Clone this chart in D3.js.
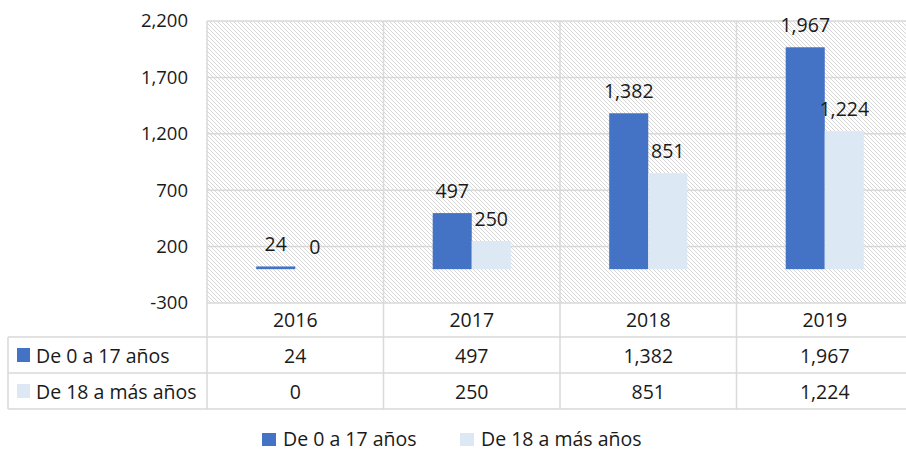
<!DOCTYPE html>
<html>
  <head>
    <meta charset="utf-8">
    <title>De 0 a 17 / De 18 a más años</title>
    <script src="https://cdn.jsdelivr.net/npm/d3@7"></script>
    <style>
      body { margin: 0; background: #fff; }
      svg { display: block; font-family: "Open Sans", Lato, sans-serif; }
    </style>
  </head>

  <body>
    <svg id="chart" width="906" height="451"></svg>

    <script>
      // data
      years = ["2016", "2017", "2018", "2019"];
      seriesNames = ["De 0 a 17 años", "De 18 a más años"];
      young = [24, 497, 1382, 1967];
      adult = [0, 250, 851, 1224];
      yTicks = [-300, 200, 700, 1200, 1700, 2200];
      colours = ["#4472c4", "#dde8f5"];

      values = [young, adult];
      chartData = years.map(function(y, i) {
        return { year: y, vals: seriesNames.map(function(s, j) { return { name: s, v: values[j][i], k: j }; }) };
      });

      // plain hyphen for negatives, like the original
      fmt = d3.formatLocale({ decimal: ".", thousands: ",", grouping: [3], currency: ["", ""], minus: "-" }).format(",");
      grid = "#d9d9d9";
      fontSize = 19.5;
      ink = "#1a1a1a";

      chart = d3.select("#chart");

      // scales
      x = d3.scaleBand().domain(years).range([207, 913]).padding(0);
      x1 = d3.scaleBand().domain(seriesNames).range([0, x.bandwidth()])
        .paddingInner(0).paddingOuter(1.26);
      y = d3.scaleLinear().domain([-300, 2200]).range([303, 21]);

      // hatch pattern
      defs = chart.append("defs");
      pat = defs.append("pattern")
        .attr("id", "hatch")
        .attr("patternUnits", "userSpaceOnUse")
        .attr("width", 4).attr("height", 4);
      pat.append("path")
        .attr("d", "M-1,-1 L5,5 M-1,3 L1,5 M3,-1 L5,1")
        .attr("stroke", "#d6d6d6")
        .attr("stroke-width", 1);

      chart.append("rect")
        .attr("x", x.range()[0]).attr("y", y(2200))
        .attr("width", x.range()[1] - x.range()[0])
        .attr("height", y(-300) - y(2200))
        .attr("fill", "url(#hatch)");

      // horizontal gridlines
      chart.append("g")
        .selectAll("line")
        .data(yTicks)
        .enter().append("line")
          .attr("x1", x.range()[0]).attr("x2", x.range()[1])
          .attr("y1", function(d) { return y(d); })
          .attr("y2", function(d) { return y(d); })
          .attr("stroke", grid).attr("stroke-width", 1.5);

      // y axis labels
      yAxis = chart.append("g")
        .attr("transform", "translate(188,0)")
        .call(d3.axisLeft(y).tickValues(yTicks).tickFormat(fmt).tickSize(0).tickPadding(0));
      yAxis.select(".domain").remove();
      yAxis.selectAll("text")
        .attr("font-size", 18.5).attr("fill", ink)
        .attr("font-family", "'Open Sans', sans-serif");

      // table geometry
      rowTops = [303, 337, 373, 409];
      tableLeft = 8;

      // vertical lines (plot + table)
      vlines = [x.range()[0]].concat(years.map(function(d) { return x(d) + x.bandwidth(); }));
      chart.append("g")
        .selectAll("line")
        .data(vlines)
        .enter().append("line")
          .attr("x1", function(d) { return d; }).attr("x2", function(d) { return d; })
          .attr("y1", y(2200)).attr("y2", rowTops[3])
          .attr("stroke", grid).attr("stroke-width", 1.5);
      chart.append("line")
        .attr("x1", tableLeft).attr("x2", tableLeft)
        .attr("y1", rowTops[1]).attr("y2", rowTops[3])
        .attr("stroke", grid).attr("stroke-width", 1.5);

      // horizontal table lines
      chart.append("g")
        .selectAll("line")
        .data(rowTops.slice(1))
        .enter().append("line")
          .attr("x1", tableLeft).attr("x2", x.range()[1])
          .attr("y1", function(d) { return d; }).attr("y2", function(d) { return d; })
          .attr("stroke", grid).attr("stroke-width", 1.5);

      // bars
      groups = chart.append("g")
        .selectAll("g")
        .data(chartData)
        .enter().append("g")
          .attr("transform", function(d) { return "translate(" + x(d.year) + ",0)"; });

      groups.selectAll("rect")
        .data(function(d) { return d.vals; })
        .enter().append("rect")
          .attr("x", function(d) { return x1(d.name); })
          .attr("width", x1.bandwidth())
          .attr("y", function(d) { return Math.min(y(d.v), y(0) - 2); })
          .attr("height", function(d) { return d.v > 0 ? Math.max(y(0) - y(d.v), 2) : 0; })
          .attr("fill", function(d) { return colours[d.k]; });

      groups.selectAll("text")
        .data(function(d) { return d.vals; })
        .enter().append("text")
          .attr("x", function(d) { return x1(d.name) + x1.bandwidth() / 2; })
          .attr("y", function(d) { return y(d.v) - 15; })
          .attr("text-anchor", "middle")
          .attr("font-size", fontSize).attr("fill", ink)
          .text(function(d) { return fmt(d.v); });

      // table: years row
      chart.append("g")
        .selectAll("text")
        .data(years)
        .enter().append("text")
          .attr("x", function(d) { return x(d) + x.bandwidth() / 2; })
          .attr("y", (rowTops[0] + rowTops[1]) / 2 + 7)
          .attr("text-anchor", "middle")
          .attr("font-size", fontSize).attr("fill", ink)
          .text(function(d) { return d; });

      // table: series rows
      rows = chart.append("g")
        .selectAll("g")
        .data(seriesNames)
        .enter().append("g")
          .attr("transform", function(d, i) { return "translate(0," + ((rowTops[i + 1] + rowTops[i + 2]) / 2) + ")"; });

      rows.append("rect")
        .attr("x", 17).attr("y", -7)
        .attr("width", 13).attr("height", 14)
        .attr("fill", function(d, i) { return colours[i]; });
      rows.append("text")
        .attr("x", 36).attr("y", 7.5)
        .attr("font-size", fontSize).attr("fill", ink)
        .text(function(d) { return d; });
      rows.selectAll(".cell")
        .data(function(d, i) { return values[i]; })
        .enter().append("text")
          .classed("cell", true)
          .attr("x", function(d, j) { return x(years[j]) + x.bandwidth() / 2; })
          .attr("y", 7.5)
          .attr("text-anchor", "middle")
          .attr("font-size", fontSize).attr("fill", ink)
          .text(function(d) { return fmt(d); });

      // legend
      legendX = [262, 460];
      legend = chart.append("g")
        .selectAll("g")
        .data(seriesNames)
        .enter().append("g")
          .attr("transform", function(d, i) { return "translate(" + legendX[i] + ",439)"; });
      legend.append("rect")
        .attr("x", 0).attr("y", -6)
        .attr("width", 14).attr("height", 13)
        .attr("fill", function(d, i) { return colours[i]; });
      legend.append("text")
        .attr("x", 21).attr("y", 6.5)
        .attr("font-size", fontSize).attr("fill", ink)
        .text(function(d) { return d; });
    </script>
  </body>
</html>
